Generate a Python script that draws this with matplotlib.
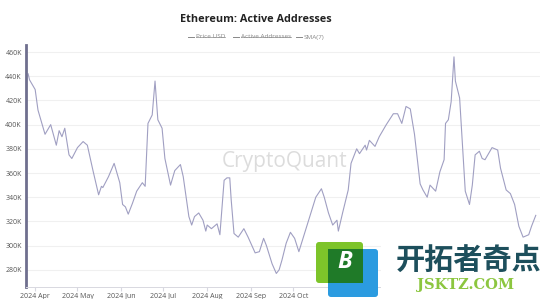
import matplotlib.pyplot as plt
import matplotlib.dates as mdates
import numpy as np
import pandas as pd
from matplotlib.patches import FancyBboxPatch, Rectangle
from matplotlib.ticker import FuncFormatter

plt.rcParams['font.family'] = ['Open Sans', 'DejaVu Sans']

dates = ["2024-03-27", "2024-03-28", "2024-04-01", "2024-04-03", "2024-04-08", "2024-04-11",
         "2024-04-12", "2024-04-16", "2024-04-18", "2024-04-20", "2024-04-22", "2024-04-25",
         "2024-04-27", "2024-05-01", "2024-05-05", "2024-05-08", "2024-05-12", "2024-05-16",
         "2024-05-18", "2024-05-19", "2024-05-23", "2024-05-27", "2024-05-31", "2024-06-02",
         "2024-06-04", "2024-06-06", "2024-06-09", "2024-06-12", "2024-06-16", "2024-06-18",
         "2024-06-20", "2024-06-23", "2024-06-25", "2024-06-27", "2024-06-30", "2024-07-02",
         "2024-07-06", "2024-07-09", "2024-07-13", "2024-07-15", "2024-07-19", "2024-07-21",
         "2024-07-23", "2024-07-26", "2024-07-29", "2024-07-31", "2024-08-01", "2024-08-04",
         "2024-08-08", "2024-08-10", "2024-08-13", "2024-08-15", "2024-08-17", "2024-08-18",
         "2024-08-20", "2024-08-23", "2024-08-27", "2024-08-30", "2024-09-04", "2024-09-07",
         "2024-09-10", "2024-09-12", "2024-09-16", "2024-09-19", "2024-09-21", "2024-09-23",
         "2024-09-26", "2024-09-29", "2024-10-02", "2024-10-05", "2024-10-09", "2024-10-13",
         "2024-10-17", "2024-10-21", "2024-10-23", "2024-10-26", "2024-10-29", "2024-11-01",
         "2024-11-02", "2024-11-05", "2024-11-09", "2024-11-11", "2024-11-15", "2024-11-17",
         "2024-11-21", "2024-11-22", "2024-11-24", "2024-11-28", "2024-12-01", "2024-12-06",
         "2024-12-11", "2024-12-14", "2024-12-17", "2024-12-20", "2024-12-23", "2024-12-26",
         "2024-12-30", "2025-01-01", "2025-01-04", "2025-01-06", "2025-01-10", "2025-01-13",
         "2025-01-16", "2025-01-17", "2025-01-19", "2025-01-21", "2025-01-23", "2025-01-24",
         "2025-01-27", "2025-01-29", "2025-01-31", "2025-02-03", "2025-02-05", "2025-02-07",
         "2025-02-10", "2025-02-12", "2025-02-14", "2025-02-16", "2025-02-19", "2025-02-23",
         "2025-02-25", "2025-03-01", "2025-03-04", "2025-03-07", "2025-03-10", "2025-03-13",
         "2025-03-17", "2025-03-19", "2025-03-22"]

sma7 = [442, 437, 429, 412, 392, 398,
        400, 383, 395, 390, 397, 375,
        372, 381, 386, 383, 362, 342,
        349, 348, 357, 368, 352, 334,
        332, 326, 335, 345, 352, 349,
        401, 408, 436, 404, 397, 372,
        350, 362, 367, 357, 324, 317,
        324, 327, 321, 312, 317, 314,
        318, 309, 354, 356, 356, 338,
        310, 307, 314, 307, 294, 295,
        306, 300, 285, 277, 280, 288,
        302, 311, 306, 295, 310, 325,
        340, 347, 340, 327, 317, 321,
        312, 327, 346, 368, 380, 376,
        383, 379, 387, 382, 390, 400,
        409, 409, 401, 415, 413, 392,
        351, 346, 340, 350, 345, 361,
        371, 401, 404, 419, 456, 436,
        422, 383, 345, 334, 350, 375,
        378, 372, 371, 375, 381, 379,
        364, 346, 343, 334, 316, 307,
        309, 316, 325]

y_ticks = [280, 300, 320, 340, 360, 380, 400, 420, 440, 460]
legend_labels = ["Price USD", "Active Addresses", "SMA(7)"]

x = pd.to_datetime(dates)
y = np.array(sma7) * 1000

fig = plt.figure(figsize=(5.55, 2.99), dpi=100)
ax = fig.add_axes([26 / 555, 1 - 287 / 299, 514 / 555, 242 / 299])

ax.plot(x, y, color='#a09fc2', linewidth=0.8)

ax.set_ylim(265800, 465800)
ax.set_xlim(pd.Timestamp("2024-03-25 12:00"), pd.Timestamp("2025-03-25"))
ax.set_yticks([v * 1000 for v in y_ticks])
ax.yaxis.set_major_formatter(FuncFormatter(lambda v, p: f"{int(v / 1000)}K"))
ax.xaxis.set_major_locator(mdates.MonthLocator())
ax.xaxis.set_major_formatter(mdates.DateFormatter('%Y %b'))

ax.grid(axis='y', color='#f0f0f0', linewidth=0.8)
ax.set_axisbelow(True)
for s in ['top', 'right']:
    ax.spines[s].set_visible(False)
ax.spines['left'].set_color('#6f6f8e')
ax.spines['left'].set_linewidth(2)
ax.spines['bottom'].set_color('#d8d8e0')
ax.spines['bottom'].set_linewidth(0.7)
ax.tick_params(axis='y', length=0, labelsize=5, labelcolor='#555555', pad=3)
ax.tick_params(axis='x', length=3, color='#d8d8e0', labelsize=5, labelcolor='#555555', pad=1)

# overlay in pixel coordinates for title, legend and watermarks
ov = fig.add_axes([0, 0, 1, 1], zorder=5)
ov.set_xlim(0, 555)
ov.set_ylim(299, 0)
ov.axis('off')
ov.patch.set_alpha(0)

ov.text(256, 19, "Ethereum: Active Addresses", ha='center', va='center',
        fontsize=7.8, fontweight='bold', color='#222222')

leg_x = [188, 233, 296]
fig.canvas.draw()
renderer = fig.canvas.get_renderer()
for i, (lx, lab) in enumerate(zip(leg_x, legend_labels)):
    ov.plot([lx, lx + 6], [36.5, 36.5], color='#888888', linewidth=0.7)
    t = ov.text(lx + 8, 37, lab, ha='left', va='center', fontsize=4.6, color='#888888')
    if i < 2:
        bb = t.get_window_extent(renderer)
        x0, _ = ov.transData.inverted().transform((bb.x0, bb.y0))
        x1, _ = ov.transData.inverted().transform((bb.x1, bb.y0))
        ov.plot([x0, x1], [36.5, 36.5], color='#888888', linewidth=0.5)

ov.text(285, 162, "CryptoQuant", ha='center', va='center', fontsize=15,
        color='#d4d4d4', alpha=0.8)

# site watermark in the lower right corner
ov.add_patch(Rectangle((309, 288), 246, 11, facecolor='white', edgecolor='none'))
ov.add_patch(Rectangle((381, 243), 174, 56, facecolor='white', edgecolor='none'))
ov.add_patch(FancyBboxPatch((316, 242), 47, 41, boxstyle="round,pad=0,rounding_size=3",
                            facecolor='#7dc42a', edgecolor='none'))
ov.add_patch(FancyBboxPatch((328, 249), 50, 48, boxstyle="round,pad=0,rounding_size=3",
                            facecolor='#2b9be0', edgecolor='none'))
ov.add_patch(Rectangle((328, 249), 35, 34, facecolor='#1f7a28', edgecolor='none'))
ov.text(345, 262, "B", ha='center', va='center', fontsize=17, fontweight='bold',
        fontstyle='italic', color='white')
ov.text(469, 261, "开拓者奇点", ha='center', va='center', fontsize=21, fontweight='heavy',
        color='#1d4f5c', family=['Noto Sans CJK SC', 'DejaVu Sans'])
ov.text(466, 285, "JSKTZ.COM", ha='center', va='center', fontsize=10.5, fontweight='bold',
        color='#8cc63f', family=['DejaVu Serif'])

fig.savefig("out.png", dpi=100)
